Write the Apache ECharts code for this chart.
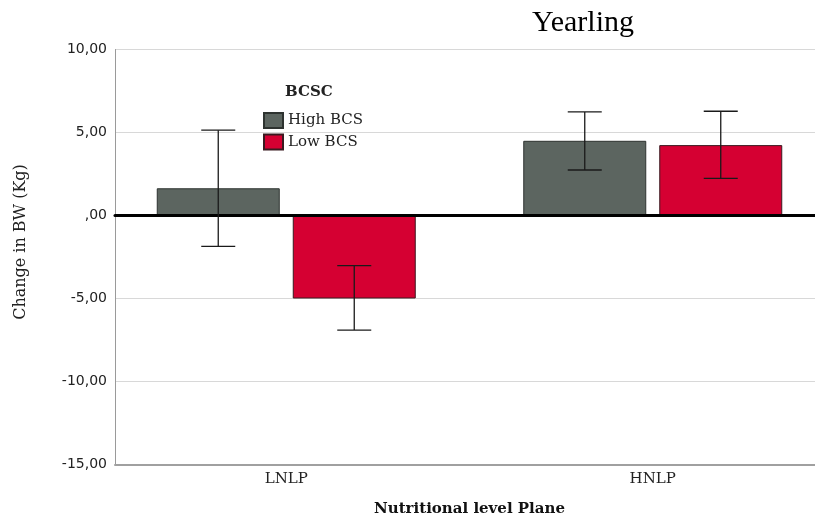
<!DOCTYPE html>
<html>
<head>
<meta charset="utf-8">
<script src="https://cdn.jsdelivr.net/npm/echarts@6/dist/echarts.min.js"></script>
<style>
  html, body { margin: 0; padding: 0; background: #fff; }
  #chart { width: 815px; height: 520px; }
</style>
</head>
<body>
<div id="chart"></div>
<script>
// Nutritional level plane groups
const categories = ['LNLP', 'HNLP'];
const seriesNames = ['High BCS', 'Low BCS'];

// Mean change in body weight (kg)
const highBCS = [1.64, 4.50];
const lowBCS = [-5.00, 4.24];

// Error bar limits
const highBCSLower = [-1.86, 2.74];
const highBCSUpper = [5.14, 6.24];
const lowBCSLower = [-6.90, 2.24];
const lowBCSUpper = [-3.02, 6.28];

// Y axis scale
const yMin = -15, yMax = 10, yStep = 5;

const colors = ['#5c6560', '#d50032'];
const BAR_W = 123;
const BAR_GAP = 13;
const CAP_W = 34;

function errorData(lower, upper) {
  return categories.map((c, i) => [i, lower[i], upper[i]]);
}

function errorSeries(name, lower, upper, shift) {
  return {
    type: 'custom',
    name: name + ' error',
    xAxisIndex: 0,
    yAxisIndex: 0,
    z: 6,
    silent: true,
    data: errorData(lower, upper),
    renderItem: function (params, api) {
      const lo = api.coord([api.value(0), api.value(1)]);
      const hi = api.coord([api.value(0), api.value(2)]);
      const x = lo[0] + shift;
      const st = { stroke: '#1a1a1a', lineWidth: 1.3 };
      return {
        type: 'group',
        children: [
          { type: 'line', shape: { x1: x, y1: hi[1], x2: x, y2: lo[1] }, style: st },
          { type: 'line', shape: { x1: x - CAP_W / 2, y1: hi[1], x2: x + CAP_W / 2, y2: hi[1] }, style: st },
          { type: 'line', shape: { x1: x - CAP_W / 2, y1: lo[1], x2: x + CAP_W / 2, y2: lo[1] }, style: st }
        ]
      };
    }
  };
}

const tickFmt = v => (v === 0 ? ',00' : v.toFixed(2).replace('.', ','));

const chart = echarts.init(document.getElementById('chart'), null, { renderer: 'canvas' });
const half = (BAR_W + BAR_GAP) / 2;

chart.setOption({
  animation: false,
  backgroundColor: '#ffffff',
  grid: [
    { left: 103, top: 49.5, width: 733, height: 415, outerBoundsMode: 'none', containLabel: false },
    { left: 115, top: 49.5, right: 0, height: 415, outerBoundsMode: 'none', containLabel: false }
  ],
  legend: {
    orient: 'vertical',
    left: 258,
    top: 107,
    itemWidth: 19,
    itemHeight: 15,
    itemGap: 4.5,
    icon: 'rect',
    data: seriesNames,
    textStyle: { fontFamily: 'DejaVu Serif', fontSize: 15, color: '#222' }
  },
  xAxis: [
    {
      gridIndex: 0,
      type: 'category',
      data: categories,
      axisLine: { show: false },
      axisTick: { show: false },
      splitLine: { show: false },
      axisLabel: { margin: 7, fontFamily: 'DejaVu Serif', fontSize: 15, color: '#222' },
      name: 'Nutritional level Plane',
      nameLocation: 'middle',
      nameGap: 37,
      nameTextStyle: { fontFamily: 'DejaVu Serif', fontSize: 15, fontWeight: 'bold', color: '#111' }
    },
    {
      gridIndex: 1,
      type: 'value',
      min: 0, max: 1,
      z: 5,
      axisLine: { onZero: true, lineStyle: { color: '#000', width: 3 } },
      axisLabel: { show: false },
      axisTick: { show: false },
      splitLine: { show: false }
    },
    {
      gridIndex: 1,
      type: 'value',
      position: 'bottom',
      min: 0, max: 1,
      axisLine: { onZero: false, lineStyle: { color: '#a0a0a0', width: 2 } },
      axisLabel: { show: false },
      axisTick: { show: false },
      splitLine: { show: false }
    }
  ],
  yAxis: [
    {
      gridIndex: 0,
      type: 'value',
      min: yMin, max: yMax, interval: yStep,
      show: false
    },
    {
      gridIndex: 1,
      type: 'value',
      min: yMin, max: yMax, interval: yStep,
      axisLine: { show: true, onZero: false, lineStyle: { color: '#9a9a9a', width: 1 } },
      axisTick: { show: false },
      axisLabel: { margin: 8, formatter: tickFmt, fontFamily: 'DejaVu Sans', fontSize: 14, color: '#222' },
      splitLine: { show: true, lineStyle: { color: '#d8d8d8', width: 1 } }
    }
  ],
  series: [
    {
      type: 'bar',
      name: seriesNames[0],
      xAxisIndex: 0, yAxisIndex: 0,
      data: highBCS,
      barWidth: BAR_W,
      barGap: (BAR_GAP / BAR_W * 100) + '%',
      itemStyle: { color: colors[0], borderColor: '#2e3330', borderWidth: 1 }
    },
    {
      type: 'bar',
      name: seriesNames[1],
      xAxisIndex: 0, yAxisIndex: 0,
      data: lowBCS,
      barWidth: BAR_W,
      itemStyle: { color: colors[1], borderColor: '#3a1a20', borderWidth: 1 }
    },
    errorSeries(seriesNames[0], highBCSLower, highBCSUpper, -half),
    errorSeries(seriesNames[1], lowBCSLower, lowBCSUpper, half)
  ],
  graphic: [
    {
      type: 'text',
      x: 583, y: 23,
      style: {
        text: 'Yearling',
        font: '30px "Liberation Serif"',
        fill: '#000',
        textAlign: 'center',
        textVerticalAlign: 'middle'
      }
    },
    {
      type: 'text',
      x: 285, y: 92,
      style: {
        text: 'BCSC',
        font: 'bold 15px "DejaVu Serif"',
        fill: '#222',
        textAlign: 'left',
        textVerticalAlign: 'middle'
      }
    },
    {
      type: 'text',
      x: 21, y: 242,
      rotation: Math.PI / 2,
      style: {
        text: 'Change in BW (Kg)',
        font: '16px "DejaVu Serif"',
        fill: '#222',
        textAlign: 'center',
        textVerticalAlign: 'middle'
      }
    }
  ]
});
</script>
</body>
</html>
